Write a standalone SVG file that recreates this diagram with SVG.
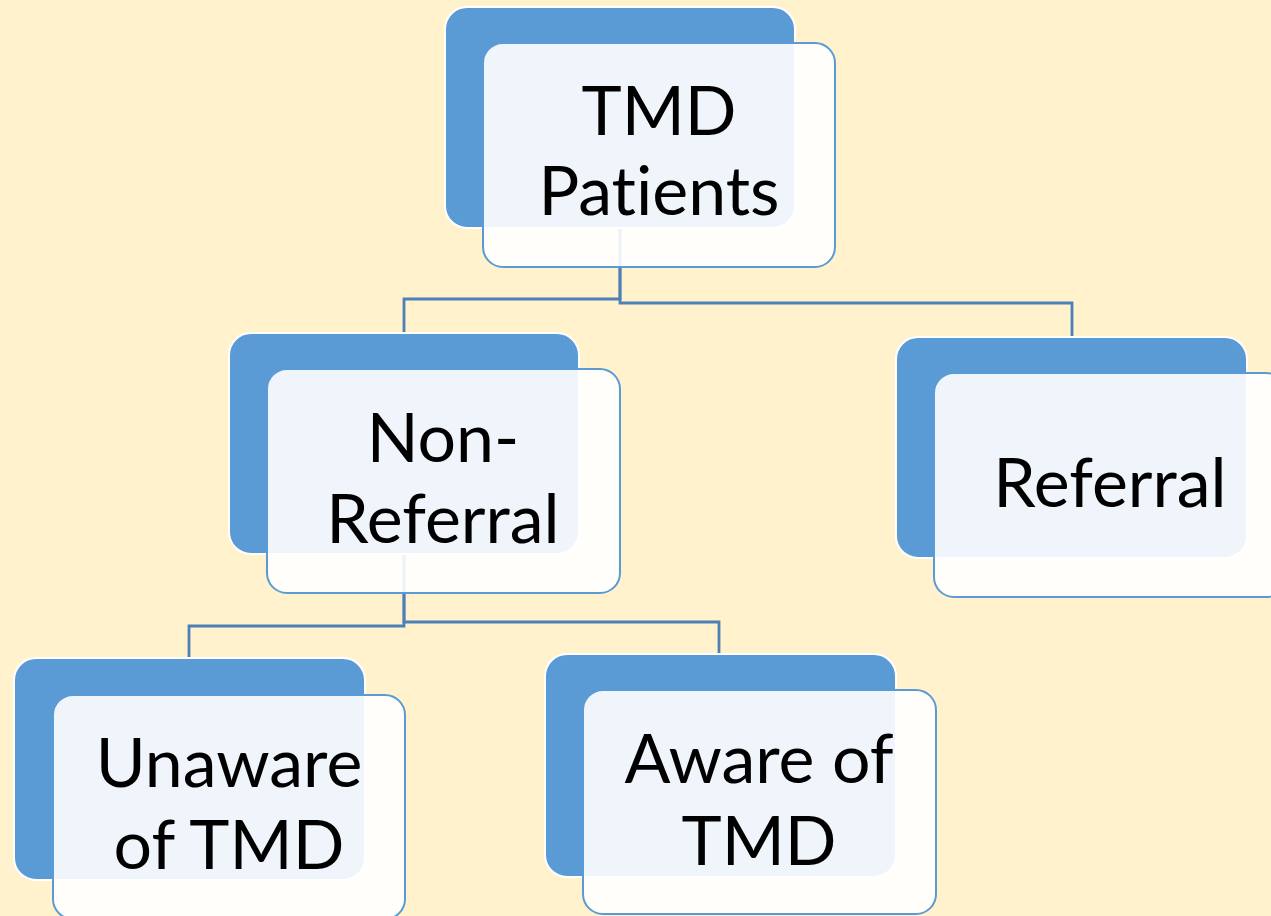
<svg xmlns="http://www.w3.org/2000/svg" width="1271" height="916" viewBox="0 0 1271 916">
<style>
.back{fill:#5B9BD5;stroke:#FFFFFF;stroke-width:2}
.front{fill:#FFFFFF;fill-opacity:0.9;stroke:#5B9BD5;stroke-width:2}
.lbl{font-family:Lato,"Open Sans","Liberation Sans",sans-serif;font-size:68px;fill:#000000;text-anchor:middle;font-variant-ligatures:none;font-feature-settings:"liga" 0,"clig" 0}
.conn{fill:none;stroke:#4E80B8;stroke-width:2.8}
</style>
<rect x="0" y="0" width="1271" height="916" fill="#FFF2CC"/>
<g id="connectors">
<path class="conn" d="M620,228 V299 H404 V333"/>
<path class="conn" d="M620,228 V303 H1072 V337"/>
<path class="conn" d="M404,554 V626 H189 V658"/>
<path class="conn" d="M404,554 V622 H719 V654"/>
</g>
<g id="node-tmd-patients">
<rect class="back" x="445" y="7" width="350" height="221" rx="22"/>
<rect class="front" x="483" y="43" width="352" height="224" rx="20"/>
<text class="lbl" x="659" y="135">TMD</text>
<text class="lbl" x="659" y="215">Patients</text>
</g>
<g id="node-non-referral">
<rect class="back" x="229" y="333" width="350" height="221" rx="22"/>
<rect class="front" x="267" y="369" width="353" height="224" rx="20"/>
<text class="lbl" x="443" y="462">Non-</text>
<text class="lbl" x="443" y="543">Referral</text>
</g>
<g id="node-referral">
<rect class="back" x="896" y="337" width="351" height="221" rx="22"/>
<rect class="front" x="934" y="373" width="352" height="224" rx="20"/>
<text class="lbl" x="1110" y="507">Referral</text>
</g>
<g id="node-unaware">
<rect class="back" x="14" y="658" width="351" height="222" rx="22"/>
<rect class="front" x="53" y="695" width="352" height="224" rx="20"/>
<text class="lbl" x="229" y="787">Unaware</text>
<text class="lbl" x="229" y="869">of TMD</text>
</g>
<g id="node-aware">
<rect class="back" x="545" y="654" width="351" height="223" rx="22"/>
<rect class="front" x="583" y="690" width="353" height="224" rx="20"/>
<text class="lbl" x="759" y="783">Aware of</text>
<text class="lbl" x="759" y="865">TMD</text>
</g>
</svg>
